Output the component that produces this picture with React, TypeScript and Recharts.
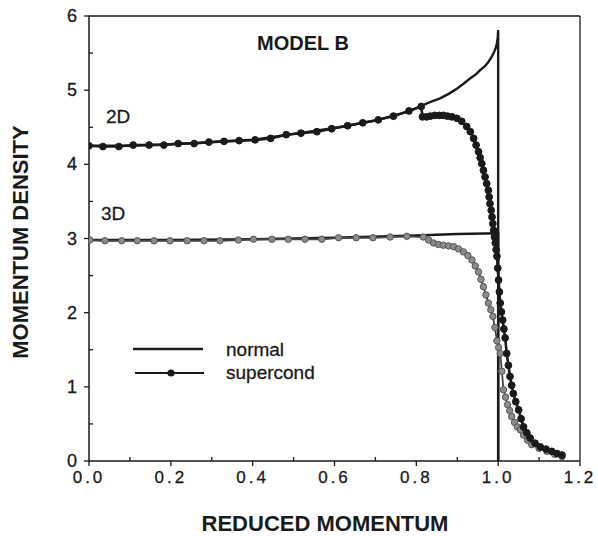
import { LineChart, Line, XAxis, YAxis, ReferenceLine } from 'recharts'

const FONT = '"Liberation Sans", Arial, Helvetica, sans-serif'
const INK = '#1a1a1a'

// tick values
const xTicks = [0, 0.1, 0.2, 0.3, 0.4, 0.5, 0.6, 0.7, 0.8, 0.9, 1.0, 1.1, 1.2]
const yTicks = [0, 0.5, 1, 1.5, 2, 2.5, 3, 3.5, 4, 4.5, 5, 5.5, 6]

// 2D, normal state
const normal2dX = [0, 0.1, 0.2, 0.3, 0.4, 0.5, 0.6, 0.7, 0.78, 0.817, 0.838, 0.858, 0.879, 0.899, 0.916, 0.932, 0.945, 0.956, 0.967, 0.976, 0.983, 0.989, 0.994, 0.997, 0.999, 1.0, 1.0]
const normal2dY = [4.25, 4.25, 4.27, 4.3, 4.33, 4.41, 4.49, 4.59, 4.71, 4.8, 4.85, 4.89, 4.95, 5.02, 5.09, 5.16, 5.21, 5.27, 5.32, 5.38, 5.44, 5.5, 5.57, 5.63, 5.71, 5.81, 0]

// 2D, superconducting state
const super2dX = [0, 0.034, 0.073, 0.108, 0.147, 0.183, 0.218, 0.257, 0.293, 0.33, 0.367, 0.406, 0.444, 0.482, 0.518, 0.557, 0.593, 0.632, 0.669, 0.707, 0.744, 0.782, 0.812,
  0.815, 0.825, 0.834, 0.845, 0.856, 0.866, 0.876, 0.887, 0.899, 0.911, 0.923, 0.932, 0.94, 0.946, 0.952, 0.956, 0.96, 0.964, 0.968, 0.972, 0.976, 0.978, 0.98, 0.983,
  0.985, 0.987, 0.989, 0.991, 0.993, 0.995, 0.997, 0.999, 1.001, 1.003, 1.005, 1.008, 1.011, 1.014, 1.017, 1.021, 1.025, 1.029, 1.033, 1.037, 1.043, 1.05, 1.056, 1.062,
  1.07, 1.078, 1.09, 1.103, 1.117, 1.131, 1.144, 1.156]
const super2dY = [4.25, 4.24, 4.24, 4.26, 4.26, 4.26, 4.28, 4.28, 4.3, 4.31, 4.32, 4.33, 4.35, 4.4, 4.42, 4.44, 4.48, 4.52, 4.56, 4.6, 4.65, 4.72, 4.78,
  4.64, 4.64, 4.65, 4.66, 4.66, 4.66, 4.65, 4.64, 4.62, 4.58, 4.51, 4.44, 4.35, 4.26, 4.17, 4.09, 4.01, 3.92, 3.83, 3.74, 3.65, 3.56, 3.47, 3.38,
  3.29, 3.2, 3.11, 3.02, 2.94, 2.85, 2.76, 2.6, 2.44, 2.28, 2.13, 2.01, 1.9, 1.78, 1.66, 1.45, 1.29, 1.14, 1.02, 0.91, 0.8, 0.69, 0.57, 0.46,
  0.38, 0.31, 0.24, 0.19, 0.16, 0.13, 0.1, 0.08]

// 3D, normal state
const normal3dX = [0, 0.2, 0.4, 0.6, 0.8, 0.9, 1.0, 1.0]
const normal3dY = [2.98, 2.98, 2.99, 3.01, 3.04, 3.06, 3.07, 0]

// 3D, superconducting state
const super3dX = [0.002, 0.039, 0.08, 0.118, 0.159, 0.198, 0.24, 0.281, 0.32, 0.365, 0.402, 0.447, 0.487, 0.528, 0.569, 0.61, 0.653, 0.694, 0.736, 0.777, 0.817,
  0.83, 0.842, 0.854, 0.866, 0.879, 0.891, 0.903, 0.915, 0.926, 0.936, 0.944, 0.952, 0.958, 0.964, 0.97, 0.976, 0.982, 0.987, 0.992, 0.997, 1.001, 1.005,
  1.009, 1.013, 1.018, 1.023, 1.028, 1.033, 1.04, 1.047, 1.054, 1.062, 1.072, 1.082, 1.1, 1.119, 1.138, 1.156]
const super3dY = [2.98, 2.97, 2.97, 2.97, 2.97, 2.97, 2.97, 2.97, 2.97, 2.98, 2.99, 2.99, 2.99, 2.99, 2.99, 3.01, 3.01, 3.01, 3.02, 3.03, 3.02,
  2.98, 2.94, 2.92, 2.91, 2.9, 2.89, 2.86, 2.82, 2.77, 2.71, 2.63, 2.55, 2.45, 2.35, 2.24, 2.13, 2.04, 1.95, 1.8, 1.62, 1.53, 1.45,
  1.21, 0.96, 0.86, 0.76, 0.68, 0.6, 0.52, 0.46, 0.42, 0.35, 0.28, 0.22, 0.17, 0.13, 0.09, 0.06]

const toPoints = (xs: number[], ys: number[]) => xs.map((x, i) => ({ x, y: ys[i] }))

const XTick = (props: any) => {
  const { x, y, payload } = props
  const v = payload.value as number
  const major = Math.round(v * 10) % 2 === 0
  if (!major) return <line x1={x} x2={x} y1={y - 4} y2={y} stroke={INK} strokeWidth={1.3} />
  return (
    <g>
      <line x1={x} x2={x} y1={y} y2={y + 5} stroke={INK} strokeWidth={1.3} />
      <text x={x} y={y + 22} textAnchor="middle" fontFamily={FONT} fontSize={17} letterSpacing={3} fill={INK} stroke={INK} strokeWidth={0.3}>
        {v.toFixed(1)}
      </text>
    </g>
  )
}

const YTick = (props: any) => {
  const { x, y, payload } = props
  const v = payload.value as number
  if (!Number.isInteger(v)) return <line x1={x} x2={x + 4} y1={y} y2={y} stroke={INK} strokeWidth={1.3} />
  return (
    <g>
      <line x1={x - 5} x2={x} y1={y} y2={y} stroke={INK} strokeWidth={1.3} />
      <text x={x - 12} y={y + 6} textAnchor="end" fontFamily={FONT} fontSize={18} fill={INK} stroke={INK} strokeWidth={0.3}>
        {v}
      </text>
    </g>
  )
}

export default function App() {
  return (
    <div style={{ position: 'absolute', left: 0, top: 0, width: 598, height: 536, background: '#fff' }}>
      <LineChart width={598} height={536} margin={{ top: 16, right: 18, left: 0, bottom: 0 }}>
        <XAxis
          type="number"
          dataKey="x"
          domain={[0, 1.2]}
          ticks={xTicks}
          interval={0}
          height={75}
          tickSize={0}
          tickMargin={0}
          tickLine={false}
          tick={XTick}
          axisLine={{ stroke: INK, strokeWidth: 1.5 }}
          allowDataOverflow
        />
        <YAxis
          type="number"
          dataKey="y"
          domain={[0, 6]}
          ticks={yTicks}
          interval={0}
          width={89}
          tickSize={0}
          tickMargin={0}
          tickLine={false}
          tick={YTick}
          axisLine={{ stroke: INK, strokeWidth: 1.5 }}
          allowDataOverflow
        />
        <ReferenceLine y={6} stroke={INK} strokeWidth={1.3} />
        <ReferenceLine x={1.2} stroke={INK} strokeWidth={1.3} />
        <Line data={toPoints(normal3dX, normal3dY)} dataKey="y" type="linear" stroke={INK} strokeWidth={2.4} dot={false} activeDot={false} isAnimationActive={false} />
        <Line
          data={toPoints(super3dX, super3dY)}
          dataKey="y"
          type="linear"
          stroke="#444"
          strokeWidth={1.8}
          dot={{ r: 3.2, fill: '#8c8c8c', stroke: '#555', strokeWidth: 1 }}
          activeDot={false}
          isAnimationActive={false}
        />
        <Line data={toPoints(normal2dX, normal2dY)} dataKey="y" type="linear" stroke={INK} strokeWidth={2.4} dot={false} activeDot={false} isAnimationActive={false} />
        <Line
          data={toPoints(super2dX, super2dY)}
          dataKey="y"
          type="linear"
          stroke={INK}
          strokeWidth={2.6}
          dot={{ r: 3.4, fill: INK, stroke: INK, strokeWidth: 1 }}
          activeDot={false}
          isAnimationActive={false}
        />
      </LineChart>
      <svg width={598} height={536} style={{ position: 'absolute', left: 0, top: 0, pointerEvents: 'none' }} fontFamily={FONT} fill={INK}>
        <text x={303} y={50} textAnchor="middle" fontSize={20} fontWeight="bold">MODEL B</text>
        <text x={106} y={123} fontSize={19} stroke={INK} strokeWidth={0.3}>2D</text>
        <text x={101} y={220} fontSize={19} stroke={INK} strokeWidth={0.3}>3D</text>
        <line x1={133} x2={203} y1={349} y2={349} stroke={INK} strokeWidth={2.6} />
        <line x1={135} x2={204} y1={373} y2={373} stroke={INK} strokeWidth={2.2} />
        <circle cx={171} cy={373} r={3.6} fill={INK} />
        <text x={226} y={356} fontSize={19} stroke={INK} strokeWidth={0.3}>normal</text>
        <text x={226} y={379} fontSize={19} stroke={INK} strokeWidth={0.3}>supercond</text>
        <text x={325} y={531} textAnchor="middle" fontSize={22} fontWeight="bold">REDUCED MOMENTUM</text>
        <text x={28} y={242} transform="rotate(-90 28 242)" textAnchor="middle" fontSize={22} fontWeight="bold">MOMENTUM DENSITY</text>
      </svg>
    </div>
  )
}
